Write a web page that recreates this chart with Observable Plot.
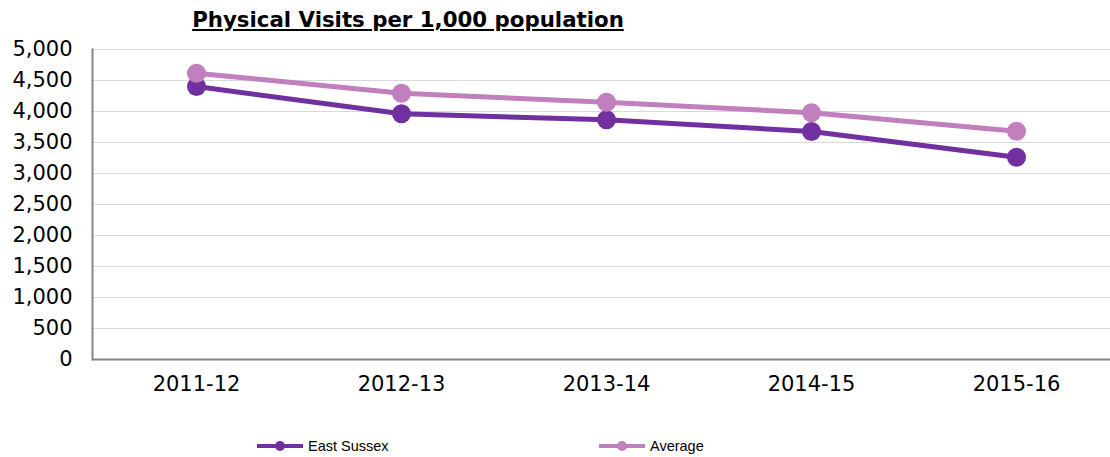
<!DOCTYPE html>
<html>
<head>
<meta charset="utf-8">
<script src="https://cdn.jsdelivr.net/npm/d3@7"></script>
<script src="https://cdn.jsdelivr.net/npm/@observablehq/plot@0.6"></script>
<style>
  html, body { margin: 0; padding: 0; background: #fff; }
  #wrap { position: relative; width: 1110px; height: 457px; overflow: hidden; }
  #title { position: absolute; left: 183px; top: 7px; width: 450px; text-align: center;
    font-family: "DejaVu Sans", Verdana, sans-serif; font-weight: bold; font-size: 21.3px;
    text-decoration: underline; color: #000; white-space: nowrap; }
  #chart { position: absolute; left: 0; top: 0; }
  #legend { position: absolute; top: 436px; left: 0; width: 1110px; height: 20px;
    font-family: "Liberation Sans", Arial, sans-serif; font-size: 14.5px; color: #000; }
  .item { position: absolute; display: flex; align-items: center; }
  .sw { position: relative; width: 46px; height: 20px; margin-right: 5px; }
  .sw .ln { position: absolute; left: 0; top: 8px; width: 46px; height: 4px; }
  .sw .dt { position: absolute; left: 18px; top: 5px; width: 10px; height: 10px; border-radius: 50%; }
</style>
</head>
<body>
<div id="wrap">
  <div id="chart"></div>
  <div id="title">Physical Visits per 1,000 population</div>
  <div id="legend"></div>
</div>
<script>
const years = ["2011-12", "2012-13", "2013-14", "2014-15", "2015-16"];
const eastSussex = [4403, 3963, 3866, 3677, 3263];
const average = [4618, 4295, 4150, 3979, 3682];
const seriesNames = ["East Sussex", "Average"];
const seriesColors = ["#7030A0", "#C17FBE"];
const yTicks = [0, 500, 1000, 1500, 2000, 2500, 3000, 3500, 4000, 4500, 5000];

const rows = [];
years.forEach((y, i) => {
  rows.push({year: y, series: seriesNames[0], value: eastSussex[i]});
});
years.forEach((y, i) => {
  rows.push({year: y, series: seriesNames[1], value: average[i]});
});

const chart = Plot.plot({
  width: 1110,
  height: 457,
  marginLeft: 92,
  marginRight: -9,
  marginTop: 49,
  marginBottom: 98,
  style: {fontFamily: "'DejaVu Sans', Verdana, sans-serif", fontSize: "21px", color: "#000", background: "transparent", overflow: "hidden"},
  x: {type: "point", domain: years, padding: 0.5, label: null},
  y: {domain: [0, 5000], ticks: yTicks, label: null, tickFormat: d3.format(",")},
  color: {domain: seriesNames, range: seriesColors},
  marks: [
    Plot.gridY(yTicks.filter(d => d > 0), {stroke: "#d9d9d9", strokeOpacity: 1, strokeWidth: 1}),
    Plot.axisY({ticks: yTicks, tickSize: 0, tickPadding: 20, tickFormat: d3.format(","), label: null, fontSize: 21}),
    Plot.axisX({tickSize: 0, tickPadding: 17, label: null, fontSize: 21}),
    Plot.frame({anchor: "left", stroke: "#868686", strokeWidth: 2}),
    Plot.ruleY([0], {stroke: "#868686", strokeWidth: 2}),
    Plot.line(rows, {x: "year", y: "value", z: "series", stroke: "series", strokeWidth: 5}),
    Plot.dot(rows.filter(d => d.series === seriesNames[0]), {x: "year", y: "value", r: 9.5, fill: "series", stroke: "none"}),
    Plot.dot(rows.filter(d => d.series === seriesNames[1]), {x: "year", y: "value", r: 9.5, fill: "series", stroke: "none"})
  ]
});
document.getElementById("chart").appendChild(chart);

// legend
const legend = document.getElementById("legend");
const lefts = [257, 599];
seriesNames.forEach((name, i) => {
  const it = document.createElement("div");
  it.className = "item";
  it.style.left = lefts[i] + "px";
  it.innerHTML = `<div class="sw"><div class="ln" style="background:${seriesColors[i]}"></div><div class="dt" style="background:${seriesColors[i]}"></div></div><span>${name}</span>`;
  legend.appendChild(it);
});
</script>
</body>
</html>
